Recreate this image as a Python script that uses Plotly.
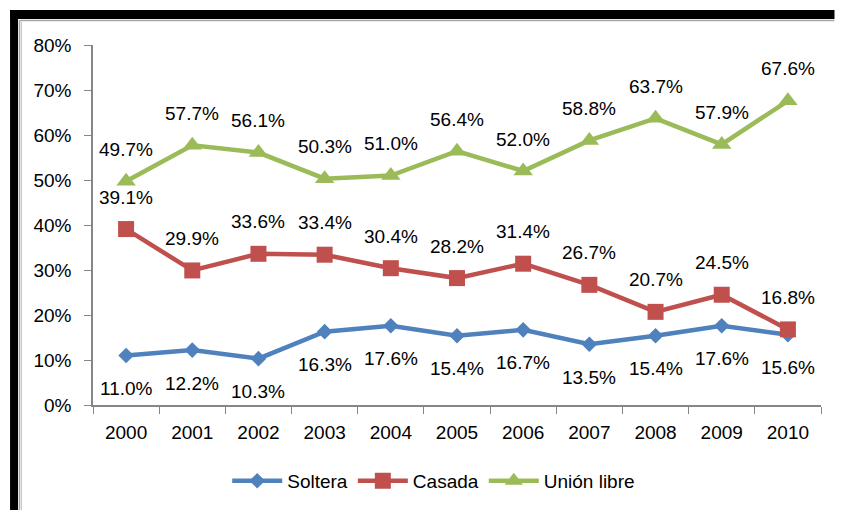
import plotly.graph_objects as go

years = ["2000", "2001", "2002", "2003", "2004", "2005", "2006", "2007", "2008", "2009", "2010"]
soltera = [11.0, 12.2, 10.3, 16.3, 17.6, 15.4, 16.7, 13.5, 15.4, 17.6, 15.6]
casada = [39.1, 29.9, 33.6, 33.4, 30.4, 28.2, 31.4, 26.7, 20.7, 24.5, 16.8]
union_libre = [49.7, 57.7, 56.1, 50.3, 51.0, 56.4, 52.0, 58.8, 63.7, 57.9, 67.6]

FONT = "Liberation Sans, Arial, sans-serif"
# the page body adds an 8px margin on every side; keep the figure inside the window
OFF = 8
W, H = 843 - 2 * OFF, 519 - 2 * OFF
L, R, T, B = 85, 13.5, 37, 105.3

series = [
    ("Soltera", soltera, "#4F81BD", "diamond", 12, -33),
    ("Casada", casada, "#C0504D", "square", 16, 32),
    ("Unión libre", union_libre, "#9BBB59", "triangle-up", 17, 32),
]

fig = go.Figure()
annotations = []
for name, vals, color, sym, size, shift in series:
    fig.add_trace(go.Scatter(
        x=years, y=[v / 100 for v in vals], name=name, mode="lines+markers",
        line=dict(color=color, width=4.5),
        marker=dict(symbol=sym, size=size, color=color),
    ))
    for i, v in enumerate(vals):
        annotations.append(dict(
            x=i, y=v / 100, xref="x", yref="y", text=f"{v:.1f}%", showarrow=False,
            yshift=shift, font=dict(size=19, color="#000000", family=FONT),
        ))


def px_x(p):
    # p is a window pixel
    return (p - OFF - L) / (W - L - R)


def px_y(p):
    return (H - B - (p - OFF)) / (H - T - B)


right = OFF + W
bottom = OFF + H
shapes = [
    dict(type="rect", xref="paper", yref="paper", x0=px_x(10), x1=px_x(18), y0=px_y(10), y1=px_y(bottom),
         fillcolor="black", line_width=0, layer="above"),
    dict(type="rect", xref="paper", yref="paper", x0=px_x(10), x1=px_x(right), y0=px_y(10), y1=px_y(19),
         fillcolor="black", line_width=0, layer="above"),
    dict(type="line", xref="paper", yref="paper", x0=px_x(19.5), x1=px_x(right), y0=px_y(20.5), y1=px_y(20.5),
         line=dict(color="#A6A6A6", width=1.5), layer="above"),
    dict(type="line", xref="paper", yref="paper", x0=px_x(19.5), x1=px_x(19.5), y0=px_y(20.5), y1=px_y(bottom),
         line=dict(color="#A6A6A6", width=1.5), layer="above"),
    dict(type="line", xref="paper", yref="paper", x0=px_x(21.5), x1=px_x(21.5), y0=px_y(22), y1=px_y(bottom),
         line=dict(color="#C8C8C8", width=1), layer="above"),
]

fig.update_layout(
    width=W, height=H,
    margin=dict(l=L, r=R, t=T, b=B),
    paper_bgcolor="white", plot_bgcolor="white",
    font=dict(family=FONT, size=19, color="#000000"),
    showlegend=True,
    legend=dict(orientation="h", x=0.468, xanchor="center", y=-0.2075, yanchor="middle",
                font=dict(size=19), itemwidth=50, tracegroupgap=0),
    annotations=annotations,
    shapes=shapes,
    xaxis=dict(
        type="category", showgrid=False, showline=True, linecolor="#868686", linewidth=1.5,
        ticks="outside", ticklen=7, tickcolor="#868686", tickson="boundaries",
        ticklabelstandoff=9, range=[-0.5, 10.5],
    ),
    yaxis=dict(
        range=[0, 0.8], tickvals=[i / 10 for i in range(9)], tickformat=".0%",
        showgrid=False, zeroline=False, showline=True, linecolor="#868686", linewidth=1.5,
        ticks="outside", ticklen=7, tickcolor="#868686", ticklabelstandoff=9,
    ),
)

fig.write_html("out.html")
